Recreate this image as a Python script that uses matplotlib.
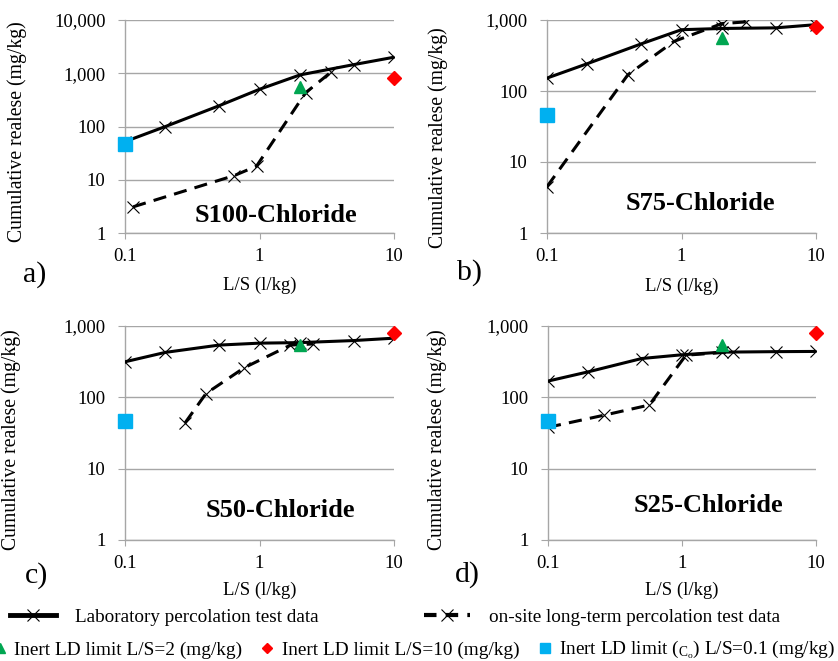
import matplotlib
matplotlib.use("Agg")
import matplotlib.pyplot as plt
from matplotlib.lines import Line2D
from matplotlib.ticker import FuncFormatter, FixedLocator, NullLocator

plt.rcParams["font.family"] = ["Liberation Serif", "DejaVu Serif"]
plt.rcParams["mathtext.fontset"] = "custom"
plt.rcParams["mathtext.rm"] = "Liberation Serif"

# -- Data --------------------------------------------------------------------
panel_tags = ["a)", "b)", "c)", "d)"]
panel_titles = ["S100-Chloride", "S75-Chloride", "S50-Chloride", "S25-Chloride"]
y_max = [10000, 1000, 1000, 1000]

# laboratory percolation test (solid)
lab_ls_a = [0.1, 0.2, 0.5, 1, 2, 5, 10]
lab_a = [52, 100, 245, 500, 930, 1450, 2000]
lab_ls_b = [0.1, 0.2, 0.5, 1, 2, 5, 10]
lab_b = [152, 243, 460, 730, 760, 775, 860]
lab_ls_c = [0.1, 0.2, 0.5, 1, 2, 5, 10]
lab_c = [315, 427, 540, 575, 585, 625, 675]
lab_ls_d = [0.1, 0.2, 0.5, 1, 2, 5, 10]
lab_d = [169, 228, 350, 395, 430, 437, 440]

# on-site long-term percolation test (dashed)
site_ls_a = [0.115, 0.65, 0.95, 2.2, 3.4]
site_a = [3.1, 12, 18, 430, 1050]
site_ls_b = [0.1, 0.4, 0.88, 2, 3]
site_b = [4.5, 170, 500, 890, 940]
site_ls_c = [0.28, 0.40, 0.77, 1.7, 2.5]
site_c = [44, 113, 260, 540, 560]
site_ls_d = [0.1, 0.26, 0.57, 1.07, 2.4]
site_d = [38, 56, 78, 390, 435]

# inert landfill limits (same in every panel)
limit_ls2, limit2 = [2], [550]
limit_ls10, limit10 = [10], [800]
limit_ls01, limit01 = [0.1], [46]

lab_ls = [lab_ls_a, lab_ls_b, lab_ls_c, lab_ls_d]
lab = [lab_a, lab_b, lab_c, lab_d]
site_ls = [site_ls_a, site_ls_b, site_ls_c, site_ls_d]
site = [site_a, site_b, site_c, site_d]

# -- Layout (pixel boxes of the original 838x661 figure) ---------------------
W, H = 838, 661
boxes = [(125, 20, 394, 233), (547, 20, 816, 233),
         (125, 326, 394, 540), (548, 326, 816, 540)]
ylabel_x = [-0.364, -0.368, -0.387, -0.377]
ylabel_y = [0.474, 0.45, 0.47, 0.47]
xlabel_y = [-0.207, -0.211, -0.196, -0.196]
title_pos = [(0.561, 0.052), (0.569, 0.108), (0.576, 0.107), (0.597, 0.131)]
tag_pos = [(23, 282), (457, 280), (25, 583), (455, 582)]

GREY = "#A6A6A6"
fig = plt.figure(figsize=(W / 100, H / 100), dpi=100)

for i in range(4):
    x0, y0, x1, y1 = boxes[i]
    ax = fig.add_axes([x0 / W, 1 - y1 / H, (x1 - x0) / W, (y1 - y0) / H])
    ax.set_xscale("log")
    ax.set_yscale("log")
    ax.set_xlim(0.1, 10)
    ax.set_ylim(1, y_max[i])

    ax.plot(lab_ls[i], lab[i], color="black", lw=2.2, marker="x",
            ms=8.5, mew=0.8, zorder=3)
    ax.plot(site_ls[i], site[i], color="black", lw=2.2, dashes=(4.3, 2.7),
            marker="x", ms=8.5, mew=0.8, zorder=3)
    ax.plot(limit_ls2, limit2, ls="none", marker="^", ms=9, color="#00A651",
            zorder=4, clip_on=False)
    ax.plot(limit_ls10, limit10, ls="none", marker="D", ms=7, color="#FF0000",
            zorder=4, clip_on=False)
    ax.plot(limit_ls01, limit01, ls="none", marker="s", ms=10, color="#00B0F0",
            zorder=4, clip_on=False)

    # -- axes cosmetics (Excel look) ------------------------------------------
    yt = [10 ** k for k in range(0, 5) if 10 ** k <= y_max[i]]
    ax.xaxis.set_major_locator(FixedLocator([0.1, 1, 10]))
    ax.xaxis.set_minor_locator(NullLocator())
    ax.yaxis.set_major_locator(FixedLocator(yt))
    ax.yaxis.set_minor_locator(NullLocator())
    ax.xaxis.set_major_formatter(FuncFormatter(lambda v, p: f"{v:g}"))
    ax.yaxis.set_major_formatter(FuncFormatter(lambda v, p: f"{v:,.0f}"))
    ax.grid(axis="y", color=GREY, lw=1)
    ax.set_axisbelow(True)
    for s in ["top", "right"]:
        ax.spines[s].set_visible(False)
    for s in ["left", "bottom"]:
        ax.spines[s].set_color(GREY)
        ax.spines[s].set_linewidth(1)
    ax.tick_params(axis="x", colors=GREY, labelcolor="black", length=4,
                   labelsize=13.5, pad=7)
    ax.tick_params(axis="y", colors=GREY, labelcolor="black", length=5,
                   labelsize=13.5, pad=9)

    ax.set_xlabel("L/S (l/kg)", fontsize=13.5, va="top")
    ax.xaxis.set_label_coords(0.5, xlabel_y[i])
    ax.set_ylabel("Cumulative realese (mg/kg)", fontsize=14.2)
    ax.yaxis.set_label_coords(ylabel_x[i], ylabel_y[i])

    ax.text(title_pos[i][0], title_pos[i][1], panel_titles[i],
            transform=ax.transAxes, ha="center", va="baseline",
            fontsize=19, fontweight="bold")
    fig.text(tag_pos[i][0] / W, 1 - tag_pos[i][1] / H, panel_tags[i],
             fontsize=21.5, va="baseline", ha="left")

# -- Legends ----------------------------------------------------------------
line_handles = [
    Line2D([], [], color="black", lw=3.5, marker="x", ms=8.5, mew=0.8),
    Line2D([], [], color="black", lw=3.0, dashes=(3, 2.2), marker="x",
           ms=8.5, mew=0.8),
]
fig.legend(line_handles,
           ["Laboratory percolation test data",
            "on-site long-term percolation test data"],
           loc="center left", bbox_to_anchor=(10 / W, 1 - 617 / H), ncol=2,
           frameon=False, fontsize=13.8, handlelength=2.4, handletextpad=1.0,
           columnspacing=5.5, borderpad=0, borderaxespad=0)

marker_handles = [
    Line2D([], [], ls="none", marker="^", ms=7, color="#00A651"),
    Line2D([], [], ls="none", marker="D", ms=5.5, color="#FF0000"),
    Line2D([], [], ls="none", marker="s", ms=7, color="#00B0F0"),
]
fig.legend(marker_handles,
           ["Inert LD limit L/S=2 (mg/kg)",
            "Inert LD limit L/S=10 (mg/kg)",
            r"Inert LD limit ($\mathregular{_{C_o}}$) L/S=0.1 (mg/kg)"],
           loc="center left", bbox_to_anchor=(-6 / W, 1 - 650 / H), ncol=3,
           frameon=False, fontsize=13.9, handlelength=0.6, handletextpad=0.45,
           columnspacing=1.0, borderpad=0, borderaxespad=0)

fig.savefig("out.png", dpi=100)
